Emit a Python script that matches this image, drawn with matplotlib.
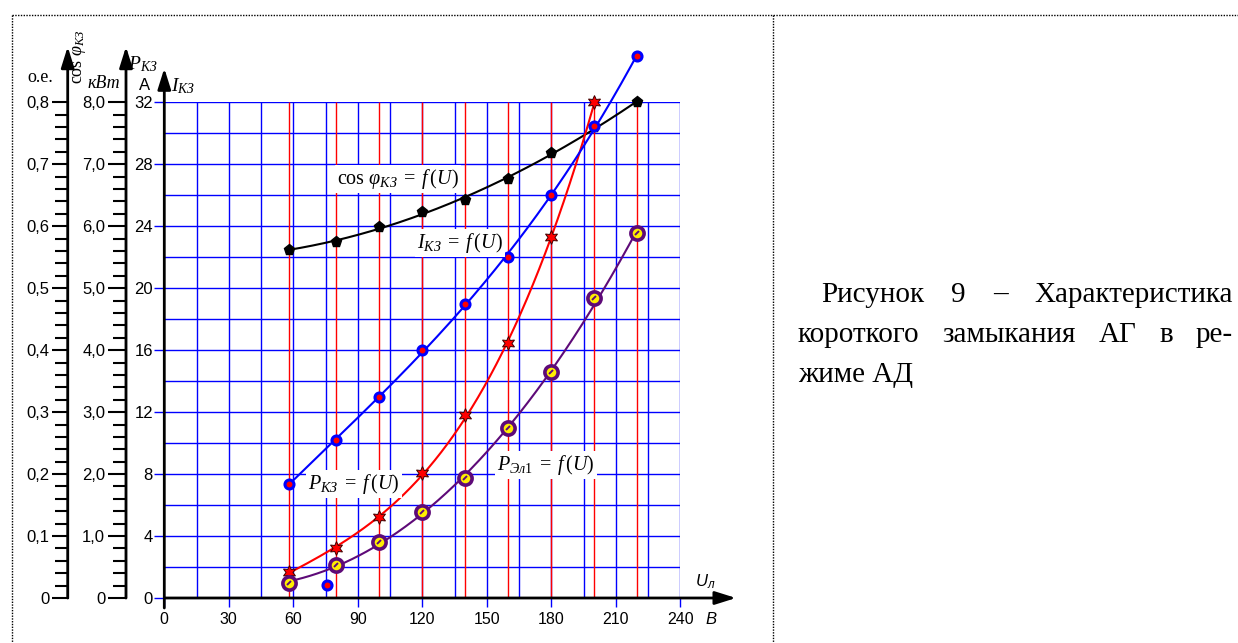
import numpy as np
import matplotlib
matplotlib.use('Agg')
import matplotlib.pyplot as plt
from matplotlib.ticker import MultipleLocator, FixedLocator
from matplotlib.lines import Line2D
from matplotlib.markers import MarkerStyle
from matplotlib.transforms import Affine2D

# ---------------- data ----------------
U = [58, 80, 100, 120, 140, 160, 180, 200, 220]
cos_phi = [0.562, 0.575, 0.599, 0.623, 0.642, 0.677, 0.718, 0.760, 0.800]
I_kz = [7.36, 10.2, 13.0, 16.0, 19.0, 22.0, 26.0, 30.5, 35.0]
U_p = [58, 80, 100, 120, 140, 160, 180, 200]
P_kz = [0.42, 0.80, 1.30, 2.02, 2.95, 4.11, 5.82, 8.0]
P_el1 = [0.25, 0.53, 0.90, 1.38, 1.93, 2.74, 3.65, 4.84, 5.89]
stray_U = [75.7]
stray_I = [0.82]

x_ticks = [0, 30, 60, 90, 120, 150, 180, 210, 240]
x_labels = ['0', '30', '60', '90', '120', '150', '180', '210', '240']
I_ticks = [0, 4, 8, 12, 16, 20, 24, 28, 32]
I_labels = ['0', '4', '8', '12', '16', '20', '24', '28', '32']
P_ticks = [0, 1, 2, 3, 4, 5, 6, 7, 8]
P_labels = ['0', '1,0', '2,0', '3,0', '4,0', '5,0', '6,0', '7,0', '8,0']
cos_ticks = [0, 0.1, 0.2, 0.3, 0.4, 0.5, 0.6, 0.7, 0.8]
cos_labels = ['0', '0,1', '0,2', '0,3', '0,4', '0,5', '0,6', '0,7', '0,8']

caption_l1 = ['Рисунок', '9', '–', 'Характеристика']
caption_l2 = ['короткого', 'замыкания', 'АГ', 'в', 'ре-']
caption_l3 = 'жиме АД'

# ---------------- style ----------------
plt.rcParams['font.family'] = ['Liberation Sans', 'DejaVu Sans']
plt.rcParams['mathtext.fontset'] = 'custom'
plt.rcParams['mathtext.rm'] = 'Liberation Serif'
plt.rcParams['mathtext.it'] = 'Liberation Serif:italic'
plt.rcParams['mathtext.bf'] = 'Liberation Serif:bold'

W, H = 1238, 643
fig = plt.figure(figsize=(W / 100, H / 100), dpi=100)


def fx(px):
    return px / W


def fy(py):
    return 1 - py / H


X0, X1 = 164.3, 680.3
Y0, Y1 = 598.0, 102.3
ax = fig.add_axes([fx(X0), fy(Y0), (X1 - X0) / W, (Y0 - Y1) / H])
ax.set_autoscale_on(False)
ax.set_xlim(0, 240)
ax.set_ylim(0, 32)
ax.patch.set_visible(False)
for s in ax.spines.values():
    s.set_visible(False)

BLUE = '#0000ff'
RED = '#ff0000'
PURPLE = '#5e0a78'

# grid
ax.hlines(np.arange(2, 33, 2), 0, 240, colors=BLUE, lw=1.0, zorder=1)
ax.vlines(np.arange(15, 241, 15), 0, 32, colors=BLUE, lw=1.0, zorder=1)
ax.vlines(U, 0, 32, colors=RED, lw=1.0, zorder=1.5)

# x ticks
ax.set_xticks(x_ticks)
ax.set_xticklabels(x_labels)
ax.tick_params(axis='x', direction='out', length=6.5, width=1.0, color=BLUE,
               labelsize=11.5, pad=3.5)
# I ticks
ax.set_yticks(I_ticks)
ax.set_yticklabels(I_labels)
ax.tick_params(axis='y', direction='out', length=7.2, width=1.0, color=BLUE,
               labelsize=12, pad=1)

# cos axis
ax_c = ax.twinx()
ax_c.set_ylim(0, 0.8)
ax_c.yaxis.tick_left()
for k in ['right', 'top', 'bottom']:
    ax_c.spines[k].set_visible(False)
ax_c.spines['left'].set_position(('axes', (67.7 - X0) / (X1 - X0)))
ax_c.spines['left'].set_linewidth(1.5)
ax_c.yaxis.set_major_locator(FixedLocator(cos_ticks))
ax_c.set_yticklabels(cos_labels)
ax_c.yaxis.set_minor_locator(MultipleLocator(0.02))
ax_c.tick_params(axis='y', which='major', direction='out', length=11.5, width=1.5,
                 labelsize=12, pad=1.5)
ax_c.tick_params(axis='y', which='minor', direction='out', length=9.1, width=1.5)

# P axis
ax_p = ax.twinx()
ax_p.set_ylim(0, 8)
ax_p.yaxis.tick_left()
for k in ['right', 'top', 'bottom']:
    ax_p.spines[k].set_visible(False)
ax_p.spines['left'].set_position(('axes', (126 - X0) / (X1 - X0)))
ax_p.spines['left'].set_linewidth(1.5)
ax_p.yaxis.set_major_locator(FixedLocator(P_ticks))
ax_p.set_yticklabels(P_labels)
ax_p.yaxis.set_minor_locator(MultipleLocator(0.2))
ax_p.tick_params(axis='y', which='major', direction='out', length=13, width=1.5,
                 labelsize=12, pad=2)
ax_p.tick_params(axis='y', which='minor', direction='out', length=9.4, width=1.5)
ax_p.yaxis.get_major_ticks()[0].tick1line.set_color('#4040ff')

# axis arrows
arrow_kw = dict(arrowstyle='-|>,head_length=0.7,head_width=0.22', lw=2, color='black',
                shrinkA=0, shrinkB=0, mutation_scale=18)
for (xa, ya, xb, yb) in [(67.7, 598, 67.7, 46.7), (126, 598, 126, 46.7),
                         (164.3, 608, 164.3, 68.3), (164.3, 598, 736, 598)]:
    fig.add_artist(matplotlib.patches.FancyArrowPatch(
        (fx(xa), fy(ya)), (fx(xb), fy(yb)), transform=fig.transFigure, **arrow_kw))


def smooth(xs, ys, deg=3):
    c = np.polyfit(xs, ys, deg)
    xx = np.linspace(xs[0], xs[-1], 300)
    return xx, np.polyval(c, xx)


# cos curve
xx, yy = smooth(U, cos_phi)
ax.plot(xx, yy, color='black', lw=1.5, transform=ax_c.transData, zorder=3, clip_on=False)
ax.plot(U, cos_phi, ls='none', marker='p', ms=8, color='black', transform=ax_c.transData,
        zorder=4, clip_on=False)

# P_kz curve
xx, yy = smooth(U_p, P_kz)
ax.plot(xx, yy, color=RED, lw=1.5, transform=ax_p.transData, zorder=3, clip_on=False)
ax.plot(U_p, P_kz, ls='none', marker=(6, 1, 0), ms=10, mfc=RED, mec='#400000', mew=0.7,
        transform=ax_p.transData, zorder=4, clip_on=False)

# P_el1 curve
xx, yy = smooth(U, P_el1)
ax.plot(xx, yy, color=PURPLE, lw=1.5, transform=ax_p.transData, zorder=3, clip_on=False)
ax.plot(U, P_el1, ls='none', marker='o', ms=9.5, mfc='#ffee00', mec=PURPLE, mew=2.6,
        transform=ax_p.transData, zorder=4, clip_on=False)
slash = MarkerStyle('|', transform=Affine2D().rotate_deg(-40))
ax.plot(U, P_el1, ls='none', marker=slash, ms=4, mec=PURPLE, mew=1.4,
        transform=ax_p.transData, zorder=4.1, clip_on=False)

# I curve
xx, yy = smooth(U, I_kz)
ax.plot(xx, yy, color=BLUE, lw=1.5, zorder=5, clip_on=False)
ax.plot(U, I_kz, ls='none', marker='o', ms=6.5, mfc=RED, mec=BLUE, mew=2.2, zorder=6,
        clip_on=False)
ax.plot(stray_U, stray_I, ls='none', marker='o', ms=6.5, mfc=RED, mec=BLUE, mew=2.2, zorder=6,
        clip_on=False)

# curve labels
box = dict(facecolor='white', edgecolor='none', pad=1.5)
lab_kw = dict(fontsize=14.5, ha='center', va='center', bbox=box, zorder=7)
ax.text(108.7, 27.05, r'$\cos\,\varphi_{КЗ}\;=\;f\,(U)$', **lab_kw)
ax.text(137.5, 22.92, r'$I_{КЗ}\;=\;f\,(U)$', **lab_kw)
ax.text(88.2, 7.36, r'$P_{КЗ}\;=\;f\,(U)$', **lab_kw)
ax.text(177.5, 8.59, r'$P_{Эл1}\;=\;f\,(U)$', **lab_kw)

# axis titles
fig.text(fx(40), fy(78), 'о.е.', family='Liberation Serif', fontsize=13, ha='center', va='center')
fig.text(fx(79), fy(57), r'$\cos\,\varphi_{КЗ}$', fontsize=13, rotation=90, ha='center', va='center')
fig.text(fx(104), fy(84), 'кВт', family='Liberation Serif', style='italic', fontsize=13,
         ha='center', va='center')
fig.text(fx(143), fy(64), r'$P_{КЗ}$', fontsize=14, ha='center', va='center')
fig.text(fx(145), fy(85), 'A', fontsize=12, ha='center', va='center')
fig.text(fx(183), fy(86), r'$I_{КЗ}$', fontsize=14, ha='center', va='center')
fig.text(fx(702), fy(581), 'U', fontsize=12, style='italic', ha='center', va='center')
fig.text(fx(711), fy(585), 'л', fontsize=8.5, style='italic', ha='center', va='center')
fig.text(fx(711), fy(620), 'В', fontsize=12, style='italic', ha='center', va='center')

# dotted frame
for (xa, ya, xb, yb) in [(11.7, 15, 11.7, 643), (11.7, 15, 1238, 15), (773, 15, 773, 643)]:
    fig.add_artist(Line2D([fx(xa), fx(xb)], [fy(ya), fy(yb)], transform=fig.transFigure,
                          color='black', lw=1.0, ls=(0, (1, 1))))

# caption (justified)
cap_fs = 21
renderer = fig.canvas.get_renderer()


def put_line(words, x0, x1, ybase):
    ts = [fig.text(0, 0, w, family='Liberation Serif', fontsize=cap_fs, va='baseline')
          for w in words]
    ws = [t.get_window_extent(renderer).width for t in ts]
    gap = (x1 - x0 - sum(ws)) / (len(ws) - 1)
    x = x0
    for t, w in zip(ts, ws):
        t.set_position((fx(x), fy(ybase)))
        x += w + gap


put_line(caption_l1, 821, 1233, 302)
put_line(caption_l2, 798, 1233, 342)
fig.text(fx(798), fy(382), caption_l3, family='Liberation Serif', fontsize=cap_fs, va='baseline')

fig.savefig('out.png', dpi=100)
